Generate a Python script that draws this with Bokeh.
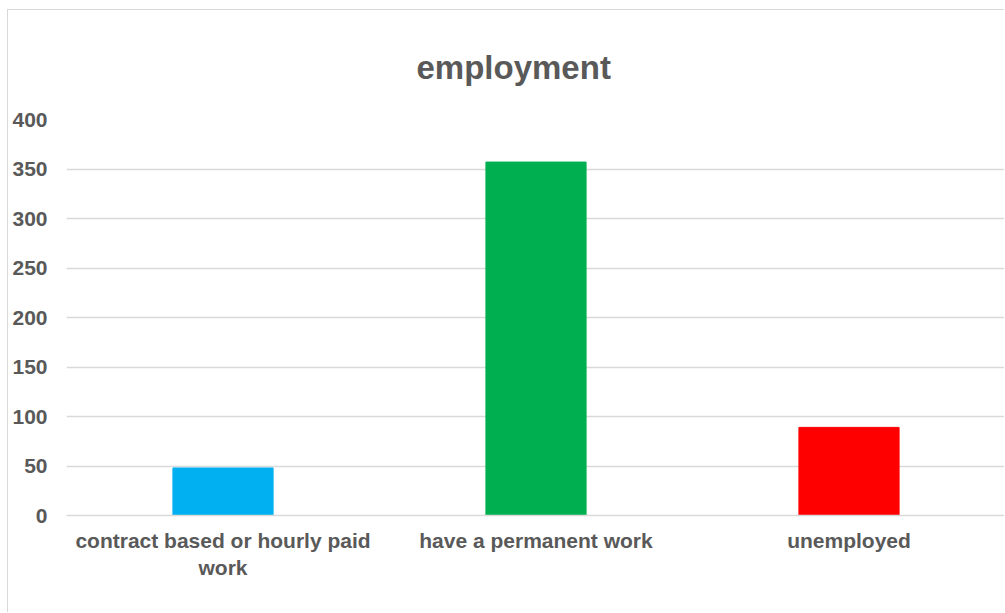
from bokeh.plotting import figure
from bokeh.models import ColumnDataSource, FactorRange, Range1d
from bokeh.embed import file_html
from bokeh.resources import INLINE

# Survey responses: employment status counts
categories = ["contract based or hourly paid\nwork", "have a permanent work", "unemployed"]
counts = [48, 357, 89]
colors = ["#00B0F0", "#00B050", "#FF0000"]
y_ticks = [0, 50, 100, 150, 200, 250, 300, 350, 400]

source = ColumnDataSource(data=dict(cat=categories, count=counts, color=colors))

p = figure(
    x_range=FactorRange(*categories, range_padding=0),
    y_range=Range1d(0, 400),
    width=997, height=603,
    output_backend="svg", toolbar_location=None,
    min_border_left=58, min_border_right=0, min_border_top=109, min_border_bottom=98,
    title="employment",
)
p.margin = (9, 0, 0, 7)
p.styles = {"border-top": "1px solid #d9d9d9", "border-left": "1px solid #d9d9d9"}

p.vbar(x="cat", top="count", width=0.32, color="color", source=source)

p.title.align = "left"
p.title.offset = 350
p.title.standoff = 68
p.title.text_font = "Liberation Sans"
p.title.text_font_size = "33px"
p.title.text_font_style = "bold"
p.title.text_color = "#595959"

p.outline_line_color = None
p.background_fill_color = "white"
p.border_fill_color = "white"

p.xgrid.grid_line_color = None
p.ygrid.grid_line_color = "#d9d9d9"
p.ygrid.grid_line_width = 1.3
p.yaxis.ticker = y_ticks

for ax in (p.xaxis, p.yaxis):
    ax.major_tick_line_color = None
    ax.minor_tick_line_color = None
    ax.major_tick_out = 0
    ax.major_tick_in = 0
    ax.minor_tick_out = 0
    ax.minor_tick_in = 0
    ax.major_label_text_font = "Liberation Sans"
    ax.major_label_text_font_size = "21px"
    ax.major_label_text_font_style = "bold"
    ax.major_label_text_color = "#595959"

p.yaxis.axis_line_color = None
p.yaxis.major_label_standoff = 19
p.xaxis.axis_line_color = "#d9d9d9"
p.xaxis.axis_line_width = 1.3
p.xaxis.major_label_standoff = 13

open("out.html", "w").write(file_html(p, INLINE))
